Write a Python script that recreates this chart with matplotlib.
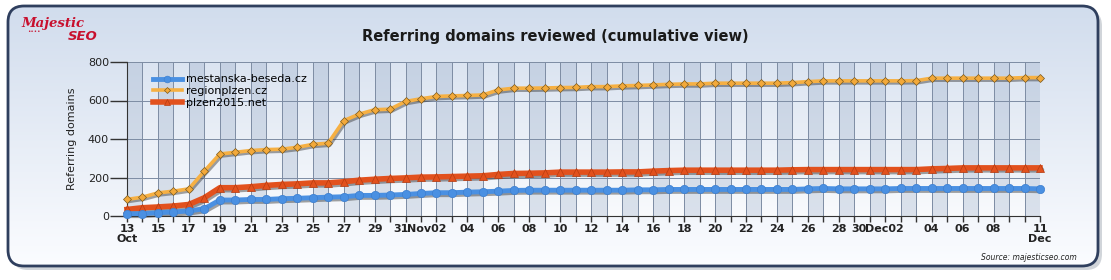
import numpy as np
import pandas as pd
import matplotlib
matplotlib.use("Agg")
import matplotlib.pyplot as plt
from matplotlib.patches import FancyBboxPatch
from matplotlib.transforms import ScaledTranslation

# data
dates = pd.date_range("2014-10-13", "2014-12-11", freq="D")
mestanska = [12, 12, 17, 21, 26, 38, 83, 83, 86, 86, 90, 92, 95, 98, 100, 107, 107, 109, 112,
             117, 121, 121, 124, 126, 129, 133, 134, 134, 134, 134, 134, 134, 134, 136, 136, 138, 138,
             138, 138, 138, 138, 138, 138, 138, 141, 143, 141, 141, 141,
             141, 143, 143, 143, 143, 143, 143, 143, 143, 143, 141]
regionplzen = [86, 98, 120, 129, 141, 233, 322, 331, 340, 345, 347, 357, 372, 378, 495, 529, 552, 555, 595,
               609, 621, 624, 626, 629, 655, 664, 664, 665, 667, 668, 672, 672, 676, 678, 681, 684, 686,
               686, 690, 690, 690, 690, 690, 693, 698, 702, 702, 702, 702,
               702, 702, 703, 716, 716, 716, 716, 716, 716, 719, 719]
plzen2015 = [34, 43, 47, 52, 60, 95, 147, 147, 152, 159, 164, 167, 172, 172, 178, 186, 191, 195, 198,
             202, 203, 205, 207, 209, 216, 221, 222, 224, 228, 228, 228, 228, 229, 229, 233, 236, 238,
             238, 238, 238, 238, 238, 238, 240, 241, 241, 241, 241, 241,
             241, 241, 241, 245, 247, 250, 250, 250, 250, 250, 250]
series_names = ["mestanska-beseda.cz", "regionplzen.cz", "plzen2015.net"]
y_ticks = [0, 200, 400, 600, 800]
x_labels = ["13\nOct", "", "15", "", "17", "", "19", "", "21", "", "23", "", "25", "", "27", "", "29", "",
            "31", "", "Nov02", "", "04", "", "06", "", "08", "", "10", "", "12", "", "14", "", "16", "",
            "18", "", "20", "", "22", "", "24", "", "26", "", "28", "", "30", "", "Dec02", "", "04", "",
            "06", "", "08", "", "", "11\nDec"]

W, H = 1111, 280
fig = plt.figure(figsize=(W / 100, H / 100), dpi=100)

# panel background
bg = fig.add_axes([0, 0, 1, 1])
bg.set_xlim(0, W)
bg.set_ylim(H, 0)
bg.axis("off")
shadow = FancyBboxPatch((12, 10), 1090, 260, boxstyle="round,pad=0,rounding_size=16",
                        fc="#9aa3ad", ec="none", alpha=0.45)
bg.add_patch(shadow)
panel = FancyBboxPatch((8, 6), 1090, 260, boxstyle="round,pad=0,rounding_size=16",
                       fc="none", ec="#2f3f5e", lw=2.0, zorder=3)
bg.add_patch(panel)
grad = np.linspace(0, 1, 256).reshape(-1, 1)
top_c = np.array([0.82, 0.865, 0.93])
bot_c = np.array([0.985, 0.99, 1.0])
img = top_c + (bot_c - top_c) * grad[:, :, None]
im = bg.imshow(img, extent=[8, 1098, 266, 6], aspect="auto", zorder=1)
im.set_clip_path(panel)

bg.text(21, 24, "Majestic", color="#c8102e", fontsize=9.5, fontweight="bold",
        fontstyle="italic", family="DejaVu Serif", va="center", ha="left")
bg.text(68, 36, "SEO", color="#c8102e", fontsize=9.5, fontweight="bold",
        fontstyle="italic", family="DejaVu Sans", va="center", ha="left")
bg.text(27, 32, "\u2022\u2022\u2022\u2022", color="#c8102e", fontsize=4, va="center", ha="left")
bg.text(555, 36, "Referring domains reviewed (cumulative view)", fontsize=10.5,
        fontweight="bold", color="#1a1a1a", ha="center", va="center")
bg.text(1077, 258, "Source: majesticseo.com", fontsize=5.5, fontstyle="italic",
        color="#222222", ha="right", va="center")

# plot area
ax = fig.add_axes([127 / W, (H - 216) / H, (1040 - 127) / W, 154 / H])
ax.set_xlim(dates[0], dates[-1])
ax.set_ylim(0, 800)

pgrad = np.linspace(0, 1, 128).reshape(-1, 1)
ptop = np.array([0.86, 0.895, 0.945])
pbot = np.array([0.975, 0.982, 0.992])
pimg = ptop + (pbot - ptop) * pgrad[:, :, None]
ax.imshow(pimg, extent=[ax.get_xlim()[0], ax.get_xlim()[1], 0, 800], aspect="auto", zorder=0)
for i in range(0, len(dates) - 1, 2):
    ax.axvspan(dates[i], dates[i + 1], color="#8da2c0", alpha=0.28, lw=0, zorder=0.5)

for d in dates:
    ax.axvline(d, color="#7d8ca3", lw=0.7, zorder=1)
for t in y_ticks[1:]:
    ax.axhline(t, color="#7d8ca3", lw=0.7, zorder=1)

# drop shadows under the lines
sh = ax.transData + ScaledTranslation(1.5 / 100, -2 / 100, fig.dpi_scale_trans)
for vals, lw in [(plzen2015, 4), (regionplzen, 2.6), (mestanska, 3.5)]:
    ax.plot(dates, vals, color="#333333", alpha=0.45, lw=lw, transform=sh, zorder=2,
            solid_capstyle="round", clip_on=False)

l1, = ax.plot(dates, mestanska, color="#4a90e2", lw=3.5, marker="o", ms=6, mfc="#4a90e2",
              mec="#3d7fd0", mew=0.5, clip_on=False, zorder=5, label=series_names[0])
l2, = ax.plot(dates, regionplzen, color="#f6b043", lw=2.6, marker="D", ms=3.8, mfc="#f3a93a",
              mec="#7a5a20", mew=0.5, clip_on=False, zorder=4, label=series_names[1])
l3, = ax.plot(dates, plzen2015, color="#e2511d", lw=4, marker="^", ms=6, mfc="#e2511d",
              mec="#b83c10", mew=0.5, clip_on=False, zorder=3, label=series_names[2])

leg = ax.legend(handles=[l1, l2, l3], loc="upper left", bbox_to_anchor=(0.02, 0.97), frameon=False,
                fontsize=8, handlelength=2.6, handletextpad=0.35, labelspacing=0.15, borderpad=0.2,
                markerscale=0.8)

ax.set_yticks(y_ticks)
ax.set_yticklabels([str(t) for t in y_ticks], fontsize=8, color="#222222")
ax.tick_params(axis="y", length=12, width=1, color="#333333", pad=1)
ax.set_xticks(dates)
ax.set_xticklabels(x_labels, fontsize=8, fontweight="bold", color="#222222", linespacing=1.0)
ax.tick_params(axis="x", length=4, width=1, color="#333333", pad=2)
shifts = {"31": -5, "Nov02": -10, "30": -11, "Dec02": -16}
for lab in ax.get_xticklabels():
    s = lab.get_text()
    if s in shifts:
        lab.set_transform(lab.get_transform() + ScaledTranslation(shifts[s] / 100, 0, fig.dpi_scale_trans))

for side in ["top", "right"]:
    ax.spines[side].set_visible(False)
ax.spines["left"].set_color("#333333")
ax.spines["bottom"].set_color("#333333")
ax.set_ylabel("Referring domains", fontsize=8, color="#222222", labelpad=8)

fig.savefig("out.png", dpi=100)
